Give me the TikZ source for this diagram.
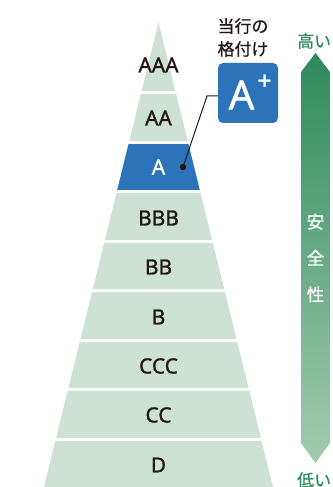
\documentclass[tikz,border=0pt]{standalone}
\usepackage{fontspec}
\setmainfont{Noto Sans}[FakeBold=1.2]
\newfontfamily\jpfont{Noto Sans CJK JP}[FakeBold=0.6]
\definecolor{bandgreen}{HTML}{CDE2D5}
\definecolor{rateblue}{HTML}{2C73B9}
\definecolor{darkgreen}{HTML}{2E8A5C}
\definecolor{palegreen}{HTML}{A3CCB0}
\definecolor{labtext}{HTML}{231815}
\begin{document}
\begin{tikzpicture}[x=1bp,y=-1bp,
  grade/.style={font=\fontsize{21}{21}\selectfont, inner sep=0pt},
  jp/.style={font=\jpfont\fontsize{17}{23}\selectfont, inner sep=0pt}]
\useasboundingbox (0,0) rectangle (332,487);
\begin{scope}
\clip (158.5,22.5) -- (44,487) -- (273,487) -- cycle;
\fill[bandgreen] (0,0) rectangle (332,490);
\fill[rateblue] (0,144) rectangle (332,191);
\foreach \k in {0,...,7}
  \draw[white, line width=3bp] (0,{92.7+49.5*\k}) -- (332,{92.7+49.5*\k});
\end{scope}
\foreach \lab/\y/\c in {AAA/65/labtext, AA/118/labtext, A/167/white, BBB/218/labtext,
  BB/267/labtext, B/317/labtext, CCC/366/labtext, CC/415/labtext, D/465/labtext}
  \node[grade, text=\c] (rate\lab) at (158.5,\y) {\lab};
\node[fill=rateblue, rounded corners=5bp, minimum width=60bp, minimum height=60bp] (curbox) at (248,93) {};
\node[text=white, inner sep=0pt, font=\fontsize{40}{40}\selectfont] (curA) at (241.5,95) {A};
\node[text=white, inner sep=0pt, font=\fontsize{25}{25}\selectfont] (curplus) at (264.5,82) {+};
\node[jp, text=labtext, align=left] (curlab) at (243,37.5) {当行の\\格付け};
\coordinate (dotA) at (183,167);
\coordinate (bend) at (207,96);
\fill[labtext] (dotA) circle (3.2);
\draw[labtext, line width=1bp] (dotA) -- (bend) -- (bend -| curbox.west);
\shade[top color=darkgreen, bottom color=palegreen] (315.5,53) -- (330,72) -- (330,443) -- (315.5,463) -- (301,443) -- (301,72) -- cycle;
\node[jp, text=white, align=center, font=\jpfont\fontsize{17.5}{36.5}\selectfont] (safety) at (315.5,258) {安\\全\\性};
\node[jp, text=darkgreen, anchor=west] (high) at (297,41) {高い};
\node[jp, text=darkgreen, anchor=west] (low) at (297,480) {低い};
\end{tikzpicture}
\end{document}
